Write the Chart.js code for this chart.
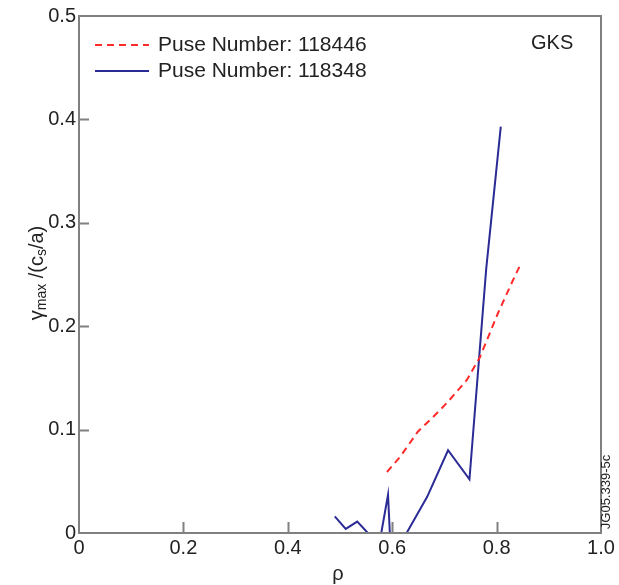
<!DOCTYPE html>
<html>
<head>
<meta charset="UTF-8">
<title>GKS growth rate</title>
<script src="https://cdn.jsdelivr.net/npm/chart.js"></script>
<style>
  html, body { margin: 0; padding: 0; background: #fff; }
  #wrap { width: 619px; height: 585px; }
</style>
</head>
<body>
<div id="wrap"><canvas id="chart" width="619" height="585"></canvas></div>
<script>
// pulse 118446 (red dashed)
const rho118446 = [0.590, 0.615, 0.649, 0.678, 0.707, 0.743, 0.768, 0.803, 0.830, 0.847];
const gamma118446 = [0.059, 0.0735, 0.098, 0.112, 0.127, 0.148, 0.170, 0.213, 0.243, 0.261];
// pulse 118348 (blue solid), dips below zero are clipped by the axis
const rho118348 = [0.490, 0.511, 0.533, 0.575, 0.592, 0.603, 0.613, 0.667, 0.707, 0.748, 0.780, 0.808];
const gamma118348 = [0.016, 0.004, 0.011, -0.0116, 0.037, -0.08, -0.013, 0.035, 0.080, 0.052, 0.255, 0.393];

const labels = ['Puse Number: 118446', 'Puse Number: 118348'];
const xTicks = [0, 0.2, 0.4, 0.6, 0.8, 1.0];
const yTicks = [0, 0.1, 0.2, 0.3, 0.4, 0.5];

const FONT = '"Liberation Sans", Arial, sans-serif';
const GRAY = '#808080';
const RED = '#ff2a2a';
const BLUE = '#2b2b96';

function pts(xs, ys) {
    return xs.map((x, i) => ({ x: x, y: ys[i] }));
}
function fmt(v) {
    return v === 0 ? '0' : v.toFixed(1);
}

const decor = {
    id: 'decor',
    afterDraw(chart) {
        const ctx = chart.ctx;
        const a = chart.chartArea;
        const xs = chart.scales.x, ys = chart.scales.y;
        ctx.save();
        // box
        ctx.strokeStyle = GRAY;
        ctx.lineWidth = 2;
        ctx.strokeRect(a.left, a.top, a.right - a.left, a.bottom - a.top);
        // inner ticks
        ctx.beginPath();
        yTicks.slice(1, -1).forEach(v => {
            const p = Math.round(ys.getPixelForValue(v)) + 0.5;
            ctx.moveTo(a.left, p); ctx.lineTo(a.left + 10, p);
        });
        xTicks.slice(1, -1).forEach(v => {
            const p = Math.round(xs.getPixelForValue(v)) + 0.5;
            ctx.moveTo(p, a.bottom); ctx.lineTo(p, a.bottom - 11);
        });
        ctx.stroke();

        // legend
        const ds = chart.data.datasets;
        ctx.font = '21px ' + FONT;
        ctx.textBaseline = 'middle';
        ctx.fillStyle = '#222';
        [45, 71].forEach((yy, i) => {
            ctx.beginPath();
            ctx.strokeStyle = ds[i].borderColor;
            ctx.lineWidth = 1.8;
            ctx.setLineDash(ds[i].borderDash || []);
            ctx.moveTo(95, yy); ctx.lineTo(149, yy);
            ctx.stroke();
            ctx.setLineDash([]);
            ctx.fillText(ds[i].label, 158, yy);
        });
        ctx.font = '20px ' + FONT;
        ctx.fillText('GKS', 531, 43);

        // x title
        ctx.textAlign = 'center';
        ctx.font = '20px ' + FONT;
        ctx.fillText('\u03c1', (a.left + a.right) / 2 - 2, 574);

        // y title with subscripts
        ctx.save();
        ctx.translate(37, 273);
        ctx.rotate(-Math.PI / 2);
        const parts = [['\u03b3', 0], ['max', 1], [' /(c', 0], ['s', 1], ['/a)', 0]];
        const big = '20px ' + FONT, small = '14px ' + FONT;
        let w = 0;
        parts.forEach(p => { ctx.font = p[1] ? small : big; w += ctx.measureText(p[0]).width; });
        let x = -w / 2;
        ctx.textAlign = 'left';
        parts.forEach(p => {
            ctx.font = p[1] ? small : big;
            ctx.fillText(p[0], x, p[1] ? 5 : 0);
            x += ctx.measureText(p[0]).width;
        });
        ctx.restore();

        // figure id
        ctx.save();
        ctx.translate(606, 492);
        ctx.rotate(-Math.PI / 2);
        ctx.font = '13px ' + FONT;
        ctx.textAlign = 'center';
        ctx.fillText('JG05.339-5c', 0, 0);
        ctx.restore();

        ctx.restore();
    }
};

new Chart(document.getElementById('chart'), {
    type: 'line',
    data: {
        datasets: [{
            label: labels[0],
            data: pts(rho118446, gamma118446),
            borderColor: RED,
            borderWidth: 2,
            borderDash: [7, 5],
            pointRadius: 0,
            tension: 0,
            clip: 0
        }, {
            label: labels[1],
            data: pts(rho118348, gamma118348),
            borderColor: BLUE,
            borderWidth: 2,
            pointRadius: 0,
            tension: 0,
            clip: 0
        }]
    },
    options: {
        responsive: false,
        animation: false,
        events: [],
        layout: { padding: { top: 16, right: 18, left: 0, bottom: 0 } },
        plugins: { legend: { display: false }, tooltip: { enabled: false } },
        scales: {
            x: {
                type: 'linear', min: 0, max: 1,
                afterBuildTicks: s => { s.ticks = xTicks.map(v => ({ value: v })); },
                afterFit: s => { s.height = 52; },
                grid: { display: false, drawTicks: false },
                border: { display: false },
                ticks: { callback: v => fmt(v), color: '#222', padding: 3, maxRotation: 0,
                         font: { family: FONT, size: 20 } }
            },
            y: {
                type: 'linear', min: 0, max: 0.5,
                afterBuildTicks: s => { s.ticks = yTicks.map(v => ({ value: v })); },
                afterFit: s => { s.width = 79; },
                grid: { display: false, drawTicks: false },
                border: { display: false },
                ticks: { callback: v => fmt(v), color: '#222', padding: 3,
                         font: { family: FONT, size: 20 } }
            }
        }
    },
    plugins: [decor]
});
</script>
</body>
</html>
